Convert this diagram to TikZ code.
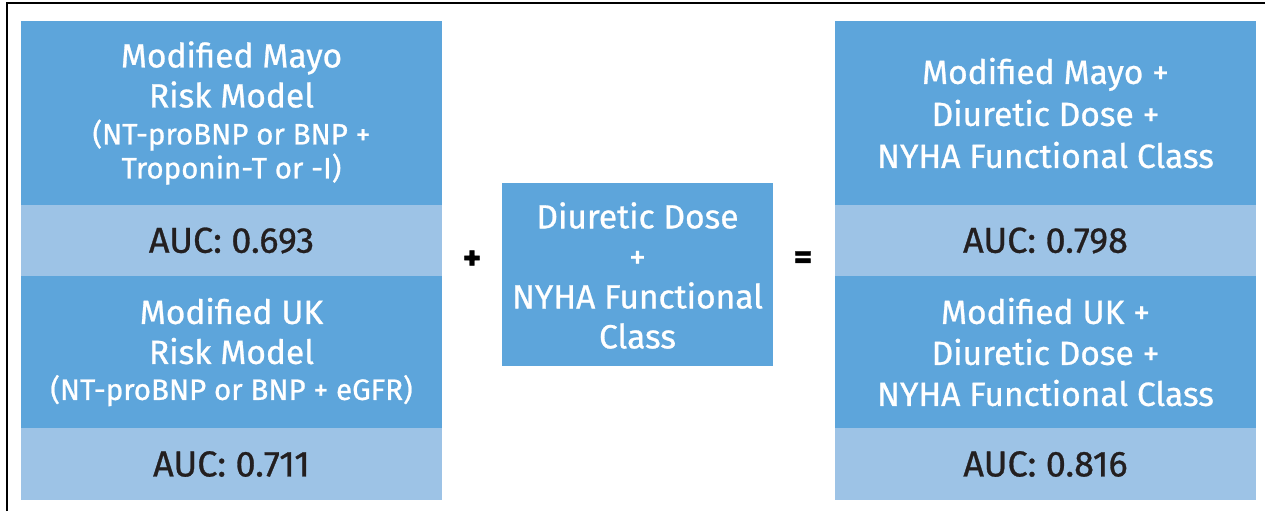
\documentclass[tikz,border=0pt]{standalone}
\usepackage{fontspec}
\setmainfont{Fira Sans}[FakeBold=0.8]
\definecolor{boxblue}{HTML}{5DA5DB}
\definecolor{bandblue}{HTML}{9DC3E6}
\definecolor{inkdark}{HTML}{231F20}
\tikzset{
  panel/.style={fill=boxblue, draw=none},
  band/.style={fill=bandblue, draw=none},
  paneltext/.style={text=white, align=center, font=\fontsize{33.5}{40}\selectfont, inner sep=0pt},
  aucstyle/.style={text=inkdark, font=\fontsize{36}{40}\selectfont, inner sep=0pt},
  opsign/.style={text=black, font=\fontsize{35}{35}\selectfont\bfseries, inner sep=0pt},
  frameline/.style={draw=black, line width=2pt}
}
\newcommand{\subline}[1]{{\fontsize{29.5}{34}\selectfont #1}}
\begin{document}
\begin{tikzpicture}[x=1pt,y=-1pt]
\useasboundingbox (0,0) rectangle (1265,511);
\fill[white] (0,0) rectangle (1265,511);
% outer frame (left and top edges)
\draw[frameline] (7,511) -- (7,3.5) -- (1265,3.5);

% left column: baseline risk models
\fill[panel] (21,21) rectangle (442,205);
\fill[band]  (21,205) rectangle (442,276);
\fill[panel] (21,276) rectangle (442,428);
\fill[band]  (21,428) rectangle (442,500);
\node[paneltext] (mayo) at (231.5,113)
  {Modified Mayo\\Risk Model\\[-3pt]\subline{(NT-proBNP or BNP +}\\[-6pt]\subline{Troponin-T or -I)}};
\node[aucstyle] (mayoauc) at (231.5,240.5) {AUC: 0.693};
\node[paneltext] (uk) at (231.5,352)
  {Modified UK\\Risk Model\\[-4pt]\subline{(NT-proBNP or BNP + eGFR)}};
\node[aucstyle] (ukauc) at (231.5,464) {AUC: 0.711};

% middle: added variables
\node[opsign] (plus) at (472,260) {+};
\fill[panel] (502,183) rectangle (773,366);
\node[paneltext] (added) at (637.5,275.5)
  {Diuretic Dose\\+\\NYHA Functional\\Class};
\node[opsign] (equals) at (803,260) {=};

% right column: combined models
\fill[panel] (835,21) rectangle (1256,205);
\fill[band]  (835,205) rectangle (1256,276);
\fill[panel] (835,276) rectangle (1256,428);
\fill[band]  (835,428) rectangle (1256,500);
\node[paneltext] (mayoplus) at (1045.5,113)
  {Modified Mayo +\\[2pt]Diuretic Dose +\\[2pt]NYHA Functional Class};
\node[aucstyle] (mayoplusauc) at (1045.5,240.5) {AUC: 0.798};
\node[paneltext] (ukplus) at (1045.5,352)
  {Modified UK +\\[1pt]Diuretic Dose +\\[1pt]NYHA Functional Class};
\node[aucstyle] (ukplusauc) at (1045.5,464) {AUC: 0.816};
\end{tikzpicture}
\end{document}
